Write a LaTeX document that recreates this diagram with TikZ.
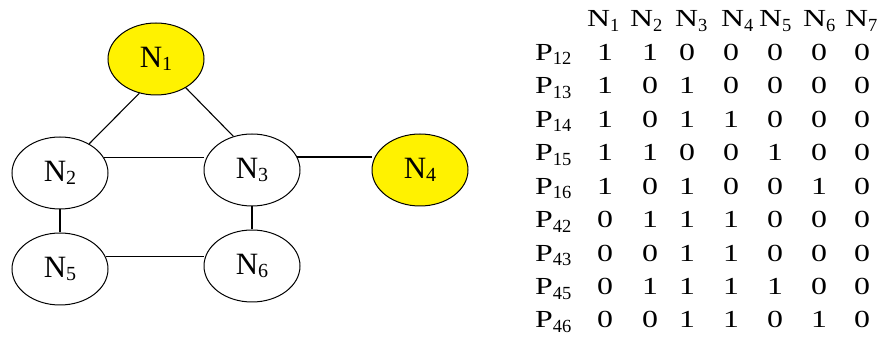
\documentclass[tikz,border=0pt]{standalone}
\usepackage{fontspec}
\setmainfont{Liberation Serif}
\newfontfamily\tabfont[FakeStretch=1.3]{Liberation Serif}
\usetikzlibrary{shapes.geometric}
\newcommand\nsub[1]{\raisebox{-3pt}{\fontsize{20}{20}\selectfont #1}}
\newcommand\tsub[1]{\raisebox{-4.5pt}{\normalfont\fontsize{18.5}{18.5}\selectfont #1}}
\begin{document}
\begin{tikzpicture}[x=1pt,y=-1pt,
  nodebox/.style={ellipse, draw, line width=1pt, minimum width=96pt, minimum height=72pt,
    inner sep=0pt, font=\fontsize{31}{31}\selectfont},
  hot/.style={fill=yellow},
  edge/.style={line width=1.1pt},
  cell/.style={anchor=base, inner sep=0pt, font=\tabfont\fontsize{24.5}{24.5}\selectfont}]
\useasboundingbox[fill=white] (0,0) rectangle (879,339);
% graph
\node[nodebox,hot] (N1) at (156,59) {N\nsub{1}};
\node[nodebox] (N2) at (60,173) {N\nsub{2}};
\node[nodebox] (N3) at (252,170) {N\nsub{3}};
\node[nodebox,hot] (N4) at (420,170) {N\nsub{4}};
\node[nodebox] (N5) at (60,269) {N\nsub{5}};
\node[nodebox] (N6) at (252,266) {N\nsub{6}};
\draw[edge] (N1.244) -- (N2.45);
\draw[edge] (N1.316) -- (N3.119);
\draw[edge] (N2.20) -- (N2.20 -| N3.west);
\draw[edge] (N3.16) -- (N3.16 -| N4.west);
\draw[edge] (N5.15) -- (N5.15 -| N6.west);
\draw[edge] (N2.south) -- (N5.north);
\draw[edge] (N3.south) -- (N6.north);
% table header
\foreach \x [count=\i] in {587,630,675,721,759,803,845}
  \node[cell, anchor=base west] (h\i) at (\x,27) {N\tsub{\i}};
% table rows
\foreach \lab/\vals [count=\r] in {12/{1,1,0,0,0,0,0}, 13/{1,0,1,0,0,0,0}, 14/{1,0,1,1,0,0,0},
    15/{1,1,0,0,1,0,0}, 16/{1,0,1,0,0,1,0}, 42/{0,1,1,1,0,0,0}, 43/{0,0,1,1,0,0,0},
    45/{0,1,1,1,1,0,0}, 46/{0,0,1,1,0,1,0}} {
  \pgfmathsetmacro\ry{27+33.44*\r}
  \node[cell, anchor=base west] (p\r) at (535,\ry) {P\tsub{\lab}};
  \foreach \v [count=\c] in \vals {
    \pgfmathsetmacro\cx{{605,650,687,731,775,819,862}[\c-1]}
    \node[cell] (c\r-\c) at (\cx,\ry) {\v};
  }
}
\end{tikzpicture}
\end{document}
